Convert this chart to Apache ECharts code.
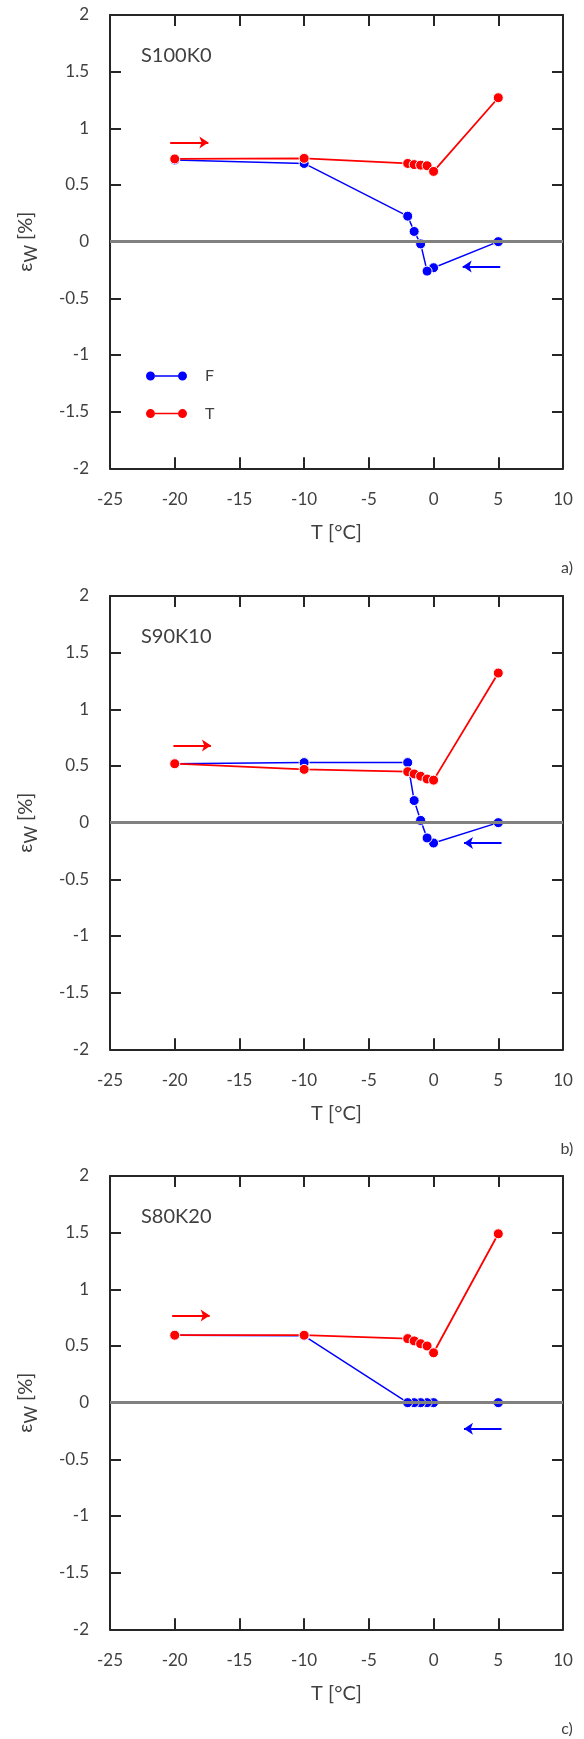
<!DOCTYPE html>
<html>
<head>
<meta charset="utf-8">
<script src="https://cdn.jsdelivr.net/npm/echarts@6/dist/echarts.min.js"></script>
<style>
html,body{margin:0;padding:0;background:#fff;}
#chart{width:584px;height:1739px;}
</style>
</head>
<body>
<div id="chart"></div>
<script>
// ---- data ----
const panelNames = ['S100K0', 'S90K10', 'S80K20'];
const panelTags = ['a)', 'b)', 'c)'];
const tempF = [5, 0, -0.5, -1, -1.5, -2, -10, -20];      // freezing path (F)
const tempT = [-20, -10, -2, -1.5, -1, -0.5, 0, 5];      // thawing path (T)
const epsF_S100K0 = [0, -0.23, -0.26, -0.02, 0.09, 0.225, 0.69, 0.72];
const epsT_S100K0 = [0.73, 0.735, 0.69, 0.68, 0.675, 0.67, 0.62, 1.27];
const epsF_S90K10 = [0, -0.18, -0.135, 0.02, 0.195, 0.53, 0.53, 0.52];
const epsT_S90K10 = [0.52, 0.47, 0.45, 0.43, 0.41, 0.385, 0.375, 1.32];
const epsF_S80K20 = [0, 0, 0, 0, 0, 0, 0.59, 0.595];
const epsT_S80K20 = [0.595, 0.595, 0.565, 0.545, 0.52, 0.5, 0.44, 1.49];
const arrowT_S100K0 = [[-20.35, 0.875], [-17.4, 0.875]];
const arrowF_S100K0 = [[5.15, -0.22], [2.25, -0.22]];
const arrowT_S90K10 = [[-20.1, 0.68], [-17.2, 0.68]];
const arrowF_S90K10 = [[5.25, -0.18], [2.35, -0.18]];
const arrowT_S80K20 = [[-20.2, 0.77], [-17.3, 0.77]];
const arrowF_S80K20 = [[5.25, -0.23], [2.35, -0.23]];
const xMin = -25, xMax = 10, xStep = 5;
const yMin = -2, yMax = 2, yStep = 0.5;

const epsF = [epsF_S100K0, epsF_S90K10, epsF_S80K20];
const epsT = [epsT_S100K0, epsT_S90K10, epsT_S80K20];
const arrowsT = [arrowT_S100K0, arrowT_S90K10, arrowT_S80K20];
const arrowsF = [arrowF_S100K0, arrowF_S90K10, arrowF_S80K20];

// ---- layout / style ----
const FONT = 'Lato, "Open Sans", sans-serif';
const TXT = '#404040';
const AX = '#262626';
const BLUE = '#0000ff';
const RED = '#ff0000';
const gridTops = [15, 596, 1176];
const gridH = 453.3, gridL = 110, gridW = 453;

const grids = [], xAxes = [], yAxes = [], series = [], graphics = [];

gridTops.forEach((top, i) => {
  grids.push({left: gridL, top: top, width: gridW, height: gridH});
  const axLine = {show: true, onZero: false, lineStyle: {color: AX, width: 2}};
  const tick = {show: true, inside: true, length: 11, lineStyle: {color: AX, width: 2}};
  xAxes.push({
    type: 'value', gridIndex: i, position: 'bottom', min: xMin, max: xMax, interval: xStep,
    axisLine: axLine, axisTick: tick, splitLine: {show: false},
    axisLabel: {margin: 23, fontSize: 17, color: TXT, fontFamily: FONT},
    name: 'T [°C]', nameLocation: 'middle', nameGap: 54,
    nameTextStyle: {fontSize: 20, color: TXT, fontFamily: FONT}
  });
  xAxes.push({
    type: 'value', gridIndex: i, position: 'top', min: xMin, max: xMax, interval: xStep,
    axisLine: axLine, axisTick: tick, splitLine: {show: false}, axisLabel: {show: false}
  });
  yAxes.push({
    type: 'value', gridIndex: i, position: 'left', min: yMin, max: yMax, interval: yStep,
    axisLine: axLine, axisTick: tick, splitLine: {show: false},
    axisLabel: {margin: 21, fontSize: 17, color: TXT, fontFamily: FONT},
    name: '{a|ε}{w|W}{a| [%]}', nameLocation: 'middle', nameRotate: 90, nameGap: 70,
    nameTextStyle: {
      color: TXT, fontFamily: FONT, fontSize: 20,
      rich: {
        a: {fontSize: 20, color: TXT, fontFamily: FONT, lineHeight: 28, verticalAlign: 'middle'},
        w: {fontSize: 17, color: TXT, fontFamily: FONT, lineHeight: 17, verticalAlign: 'bottom'}
      }
    }
  });
  yAxes.push({
    type: 'value', gridIndex: i, position: 'right', min: yMin, max: yMax, interval: yStep,
    axisLine: axLine, axisTick: tick, splitLine: {show: false}, axisLabel: {show: false}
  });

  const xi = 2 * i, yi = 2 * i;
  // zero line
  series.push({
    type: 'line', xAxisIndex: xi, yAxisIndex: yi, data: [], z: 1, silent: true,
    markLine: {silent: true, symbol: ['none', 'none'], label: {show: false},
      lineStyle: {color: '#808080', width: 3, type: 'solid'}, data: [{yAxis: 0}], animation: false}
  });
  // F series (blue)
  series.push({
    name: 'F', type: 'line', xAxisIndex: xi, yAxisIndex: yi, z: 2,
    data: tempF.map((t, k) => [t, epsF[i][k]]),
    symbol: 'circle', symbolSize: 10, showAllSymbol: true,
    lineStyle: {color: BLUE, width: 1.5},
    itemStyle: {color: BLUE, borderColor: '#ffffff', borderWidth: 1}
  });
  // T series (red)
  series.push({
    name: 'T', type: 'line', xAxisIndex: xi, yAxisIndex: yi, z: 3,
    data: tempT.map((t, k) => [t, epsT[i][k]]),
    symbol: 'circle', symbolSize: 10, showAllSymbol: true,
    lineStyle: {color: RED, width: 1.8},
    itemStyle: {color: RED, borderColor: '#ffffff', borderWidth: 1}
  });
  // arrows
  series.push({
    type: 'lines', coordinateSystem: 'cartesian2d', xAxisIndex: xi, yAxisIndex: yi, z: 4,
    symbol: ['none', 'arrow'], symbolSize: 9,
    lineStyle: {color: RED, width: 2, opacity: 1},
    data: [{coords: arrowsT[i]}]
  });
  series.push({
    type: 'lines', coordinateSystem: 'cartesian2d', xAxisIndex: xi, yAxisIndex: yi, z: 4,
    symbol: ['none', 'arrow'], symbolSize: 9,
    lineStyle: {color: BLUE, width: 2, opacity: 1},
    data: [{coords: arrowsF[i]}]
  });

  graphics.push({
    type: 'text', left: 141, top: top + 43 - 12,
    style: {text: panelNames[i], fontSize: 20, fill: TXT, fontFamily: FONT}
  });
  graphics.push({
    type: 'text', x: 567, y: top + gridH + 100,
    style: {text: panelTags[i], fontSize: 16, fill: TXT, fontFamily: FONT,
      textAlign: 'center', textVerticalAlign: 'middle'}
  });
});

const legendIcon = 'path://M0,4.5A4.5,4.5,0,1,0,9,4.5A4.5,4.5,0,1,0,0,4.5Z M9,3.75L32,3.75L32,5.25L9,5.25Z M32,4.5A4.5,4.5,0,1,0,41,4.5A4.5,4.5,0,1,0,32,4.5Z';

const chart = echarts.init(document.getElementById('chart'), null, {renderer: 'canvas'});
chart.setOption({
  animation: false,
  backgroundColor: '#ffffff',
  grid: grids,
  xAxis: xAxes,
  yAxis: yAxes,
  legend: {
    data: [{name: 'F', icon: legendIcon}, {name: 'T', icon: legendIcon}],
    orient: 'vertical', left: 146, top: 368, padding: 0,
    itemWidth: 41, itemHeight: 9, itemGap: 21.6,
    itemStyle: {borderWidth: 0},
    textStyle: {fontSize: 16, color: TXT, fontFamily: FONT, lineHeight: 16, padding: [0, 0, 0, 13]},
    selectedMode: false
  },
  graphic: graphics,
  series: series
});
</script>
</body>
</html>
